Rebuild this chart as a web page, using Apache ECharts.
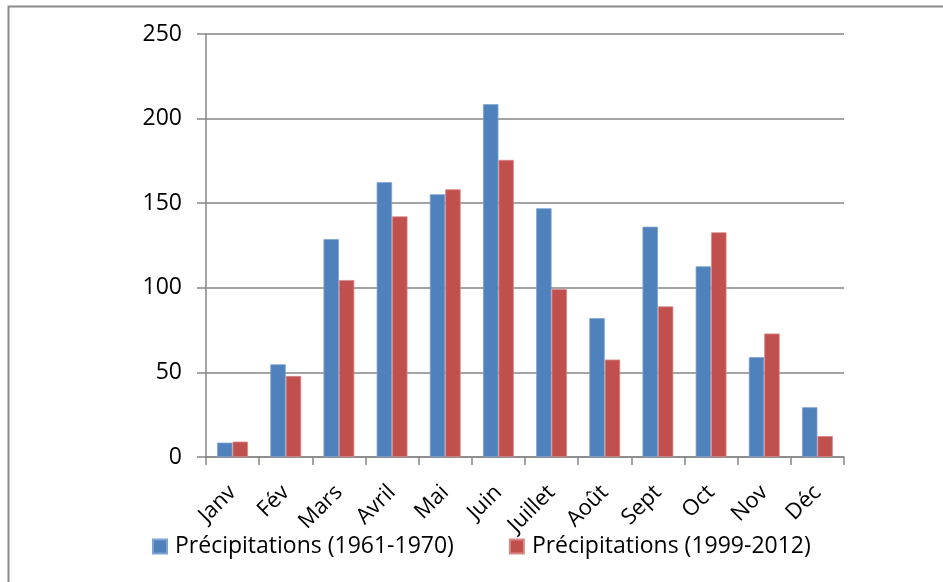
<!DOCTYPE html>
<html>
<head>
<meta charset="utf-8">
<script src="https://cdn.jsdelivr.net/npm/echarts@6/dist/echarts.min.js"></script>
<style>
  html, body { margin: 0; padding: 0; background: #fff; }
  #chart { width: 943px; height: 582px; }
</style>
</head>
<body>
<div id="chart"></div>
<script>
// Monthly precipitation (mm), two reference periods
const months = ['Janv', 'Fév', 'Mars', 'Avril', 'Mai', 'Juin', 'Juillet', 'Août', 'Sept', 'Oct', 'Nov', 'Déc'];
const precip1961 = [8.5, 54.8, 128.8, 162.4, 155.3, 208.5, 147.0, 82.1, 136.1, 112.7, 59.0, 29.4];
const precip1999 = [9.1, 47.9, 104.6, 142.2, 158.2, 175.6, 99.2, 57.6, 89.0, 132.8, 73.0, 12.4];
const seriesNames = ['Précipitations (1961-1970)', 'Précipitations (1999-2012)'];

const FONT = '"Open Sans", "Noto Sans", sans-serif';
const AXIS_GRAY = '#868686';

const chart = echarts.init(document.getElementById('chart'), null, { renderer: 'canvas' });

chart.setOption({
  animation: false,
  backgroundColor: '#ffffff',
  graphic: [{
    type: 'rect',
    left: 6, top: 4,
    shape: { width: 1200, height: 1200 },
    style: { fill: 'none', stroke: '#8a8a8a', lineWidth: 2 },
    silent: true
  }],
  grid: { left: 206, right: 99, top: 34, bottom: 125, containLabel: false },
  legend: {
    left: 147, top: 530,
    itemWidth: 14, itemHeight: 14, itemGap: 55,
    icon: 'rect',
    textStyle: { fontFamily: FONT, fontSize: 23, color: '#000', padding: [0, 0, 0, 3] },
    data: seriesNames
  },
  xAxis: {
    type: 'category',
    data: months,
    axisLine: { lineStyle: { color: AXIS_GRAY, width: 1.5 } },
    axisTick: { show: true, length: 8, alignWithLabel: false, lineStyle: { color: AXIS_GRAY, width: 1.5 } },
    axisLabel: { rotate: 45, margin: 32, interval: 0, fontFamily: FONT, fontSize: 22, color: '#000' }
  },
  yAxis: {
    type: 'value',
    min: 0, max: 250, interval: 50,
    axisLine: { show: true, lineStyle: { color: AXIS_GRAY, width: 1.5 } },
    axisTick: { show: true, inside: false, length: 9, lineStyle: { color: AXIS_GRAY, width: 1.5 } },
    splitLine: { show: true, lineStyle: { color: AXIS_GRAY, width: 1.5 } },
    axisLabel: { margin: 24, fontFamily: FONT, fontSize: 23, color: '#000' }
  },
  series: [
    {
      name: seriesNames[0], type: 'bar', data: precip1961,
      barGap: '0%', barCategoryGap: '42%',
      itemStyle: { color: '#4F81BD', borderColor: '#7fa3d1', borderWidth: 0.8 }
    },
    {
      name: seriesNames[1], type: 'bar', data: precip1999,
      barGap: '0%', barCategoryGap: '42%',
      itemStyle: { color: '#C0504D', borderColor: '#d88986', borderWidth: 0.8 }
    }
  ]
});
</script>
</body>
</html>
